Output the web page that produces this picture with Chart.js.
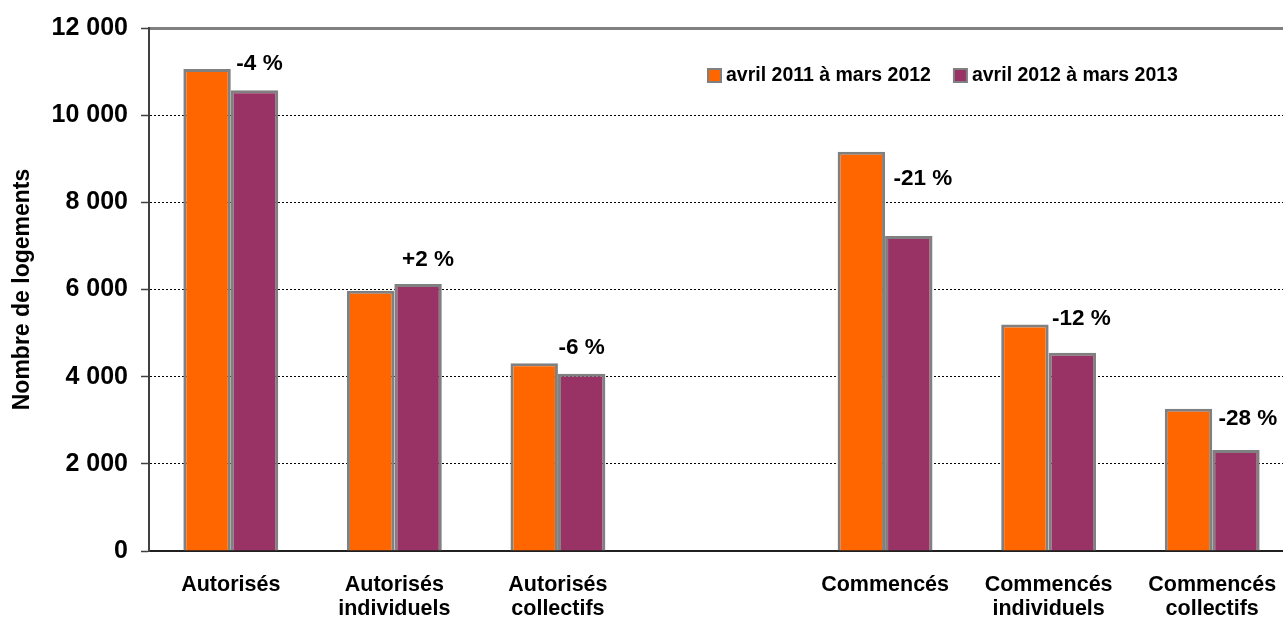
<!DOCTYPE html>
<html>
<head>
<meta charset="utf-8">
<script src="https://cdn.jsdelivr.net/npm/chart.js@4/dist/chart.umd.min.js"></script>
<style>
    html, body { margin: 0; padding: 0; background: #fff; overflow: hidden; }
    #wrap { width: 1294px; height: 623px; }
</style>
</head>
<body>
<div id="wrap"><canvas id="chart" width="1294" height="623"></canvas></div>
<script>
// données
const categories = ['Autorisés', ['Autorisés', 'individuels'], ['Autorisés', 'collectifs'], '',
    'Commencés', ['Commencés', 'individuels'], ['Commencés', 'collectifs']];
const seriesNames = ['avril 2011 à mars 2012', 'avril 2012 à mars 2013'];
const values2011 = [11060, 5970, 4310, null, 9160, 5195, 3265];
const values2012 = [10570, 6125, 4065, null, 7230, 4550, 2315];
const changeLabels = ['-4 %', '+2 %', '-6 %', '', '-21 %', '-12 %', '-28 %'];
const yTickLabels = ['0', '2 000', '4 000', '6 000', '8 000', '10 000', '12 000'];

const FONT = '"Liberation Sans", Arial, sans-serif';

// étiquettes d'évolution au-dessus des barres 2012-2013
const changeLabelPlugin = {
    id: 'changeLabels',
    afterDatasetsDraw(chart, args, opts) {
        const meta = chart.getDatasetMeta(1);
        const ctx = chart.ctx;
        ctx.save();
        ctx.font = 'bold 22.5px ' + FONT;
        ctx.fillStyle = '#000';
        ctx.textAlign = 'center';
        ctx.textBaseline = 'middle';
        changeLabels.forEach((label, i) => {
            if (!label) return;
            const bar = meta.data[i];
            const off = opts.offsets[i] || [0, 26];
            ctx.fillText(label, bar.x + off[0], bar.y - off[1]);
        });
        ctx.restore();
    }
};

// légende dans la zone du graphique, en haut à droite
const innerLegendPlugin = {
    id: 'innerLegend',
    afterDraw(chart, args, opts) {
        const ctx = chart.ctx;
        ctx.save();
        ctx.font = 'bold 19.5px ' + FONT;
        ctx.textBaseline = 'middle';
        ctx.textAlign = 'left';
        let x = opts.x;
        const y = opts.y;
        chart.data.datasets.forEach(ds => {
            ctx.fillStyle = ds.backgroundColor;
            ctx.fillRect(x, y - 6, 13, 13);
            ctx.strokeStyle = '#808080';
            ctx.lineWidth = 2;
            ctx.strokeRect(x, y - 6, 13, 13);
            ctx.fillStyle = '#000';
            ctx.fillText(ds.label, x + 18, y + 1);
            x += 18 + ctx.measureText(ds.label).width + 23;
        });
        ctx.restore();
    }
};

const isTop = c => c.tick && c.tick.value === 12000;

new Chart(document.getElementById('chart'), {
    type: 'bar',
    data: {
        labels: categories,
        datasets: [{
            label: seriesNames[0],
            data: values2011,
            backgroundColor: '#FF6600',
            borderColor: '#808080',
            borderWidth: 3,
            borderSkipped: 'bottom'
        }, {
            label: seriesNames[1],
            data: values2012,
            backgroundColor: '#993366',
            borderColor: '#808080',
            borderWidth: 3,
            borderSkipped: 'bottom'
        }]
    },
    options: {
        responsive: false,
        animation: false,
        layout: { padding: { top: 27, right: 0, bottom: 0, left: 0 } },
        datasets: { bar: { categoryPercentage: 0.58, barPercentage: 1 } },
        plugins: {
            legend: { display: false },
            tooltip: { enabled: false },
            changeLabels: { offsets: [[5, 27], [10, 24], [0, 26], null, [14, 57], [9, 34], [12, 31]] },
            innerLegend: { x: 708, y: 75 }
        },
        scales: {
            x: {
                grid: { display: false, drawTicks: false },
                border: { display: true, color: '#202020', width: 2 },
                ticks: {
                    color: '#000',
                    font: { family: FONT, size: 21.5, weight: 'bold', lineHeight: 1.12 },
                    padding: 22,
                    maxRotation: 0,
                    autoSkip: false
                },
                afterFit(scale) {
                    scale.height = 72;
                    scale.paddingLeft = 0;
                    scale.paddingRight = 0;
                }
            },
            y: {
                min: 0,
                max: 12000,
                ticks: {
                    stepSize: 2000,
                    color: '#000',
                    font: { family: FONT, size: 25, weight: 'bold' },
                    padding: 13,
                    callback: (value, index) => yTickLabels[index]
                },
                grid: {
                    color: c => isTop(c) ? '#808080' : '#000',
                    lineWidth: c => isTop(c) ? 3 : 1,
                    tickColor: '#404040',
                    tickWidth: 1.5,
                    tickLength: 8
                },
                border: {
                    color: '#404040',
                    width: 2,
                    dash: c => isTop(c) ? [] : [2, 2]
                },
                title: {
                    display: true,
                    text: 'Nombre de logements',
                    color: '#000',
                    font: { family: FONT, size: 23, weight: 'bold' },
                    padding: { top: 9, bottom: 0 }
                },
                afterFit(scale) {
                    scale.width = 149;
                }
            }
        }
    },
    plugins: [changeLabelPlugin, innerLegendPlugin]
});
</script>
</body>
</html>
